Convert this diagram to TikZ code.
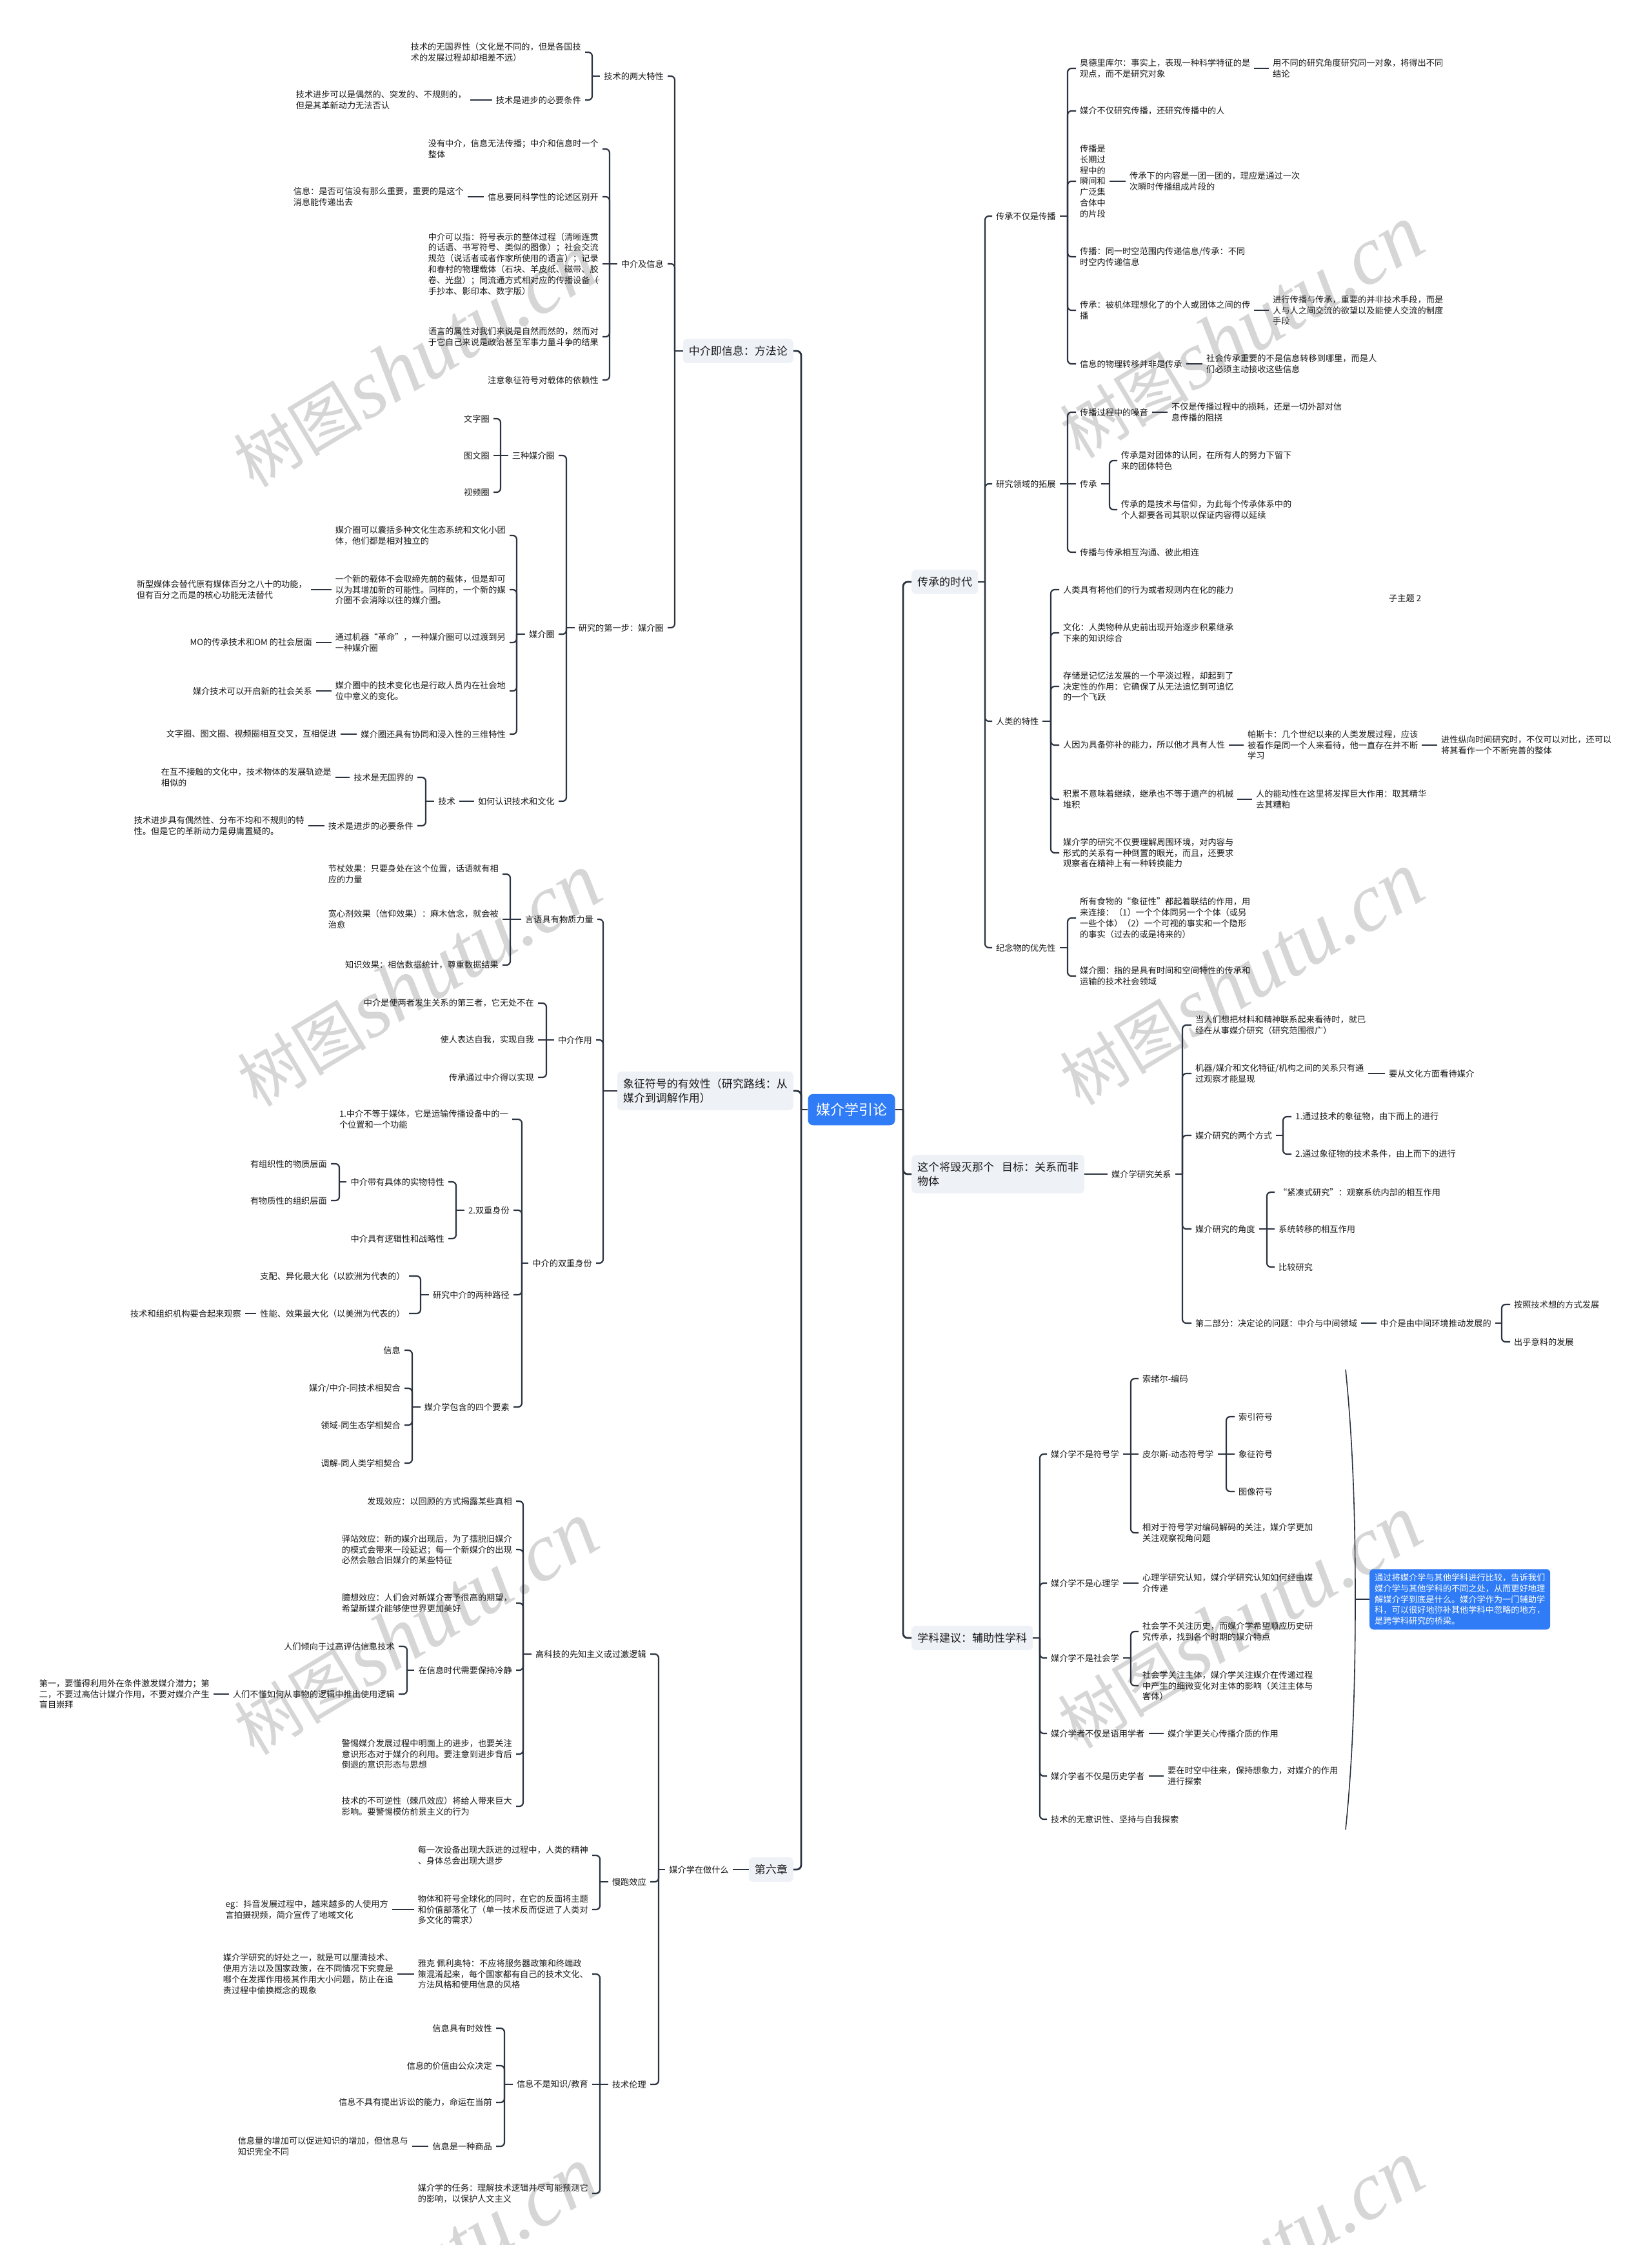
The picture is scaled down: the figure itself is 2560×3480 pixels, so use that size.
\documentclass[tikz,border=0pt]{standalone}
\usepackage{fontspec}
\setmainfont{Noto Sans CJK SC}
\newfontfamily\wmlatin{Liberation Serif}
\definecolor{lncol}{HTML}{2B3340}
\definecolor{boxfill}{HTML}{EEF1F6}
\definecolor{rootblue}{HTML}{2F7CF6}
\definecolor{wmgray}{HTML}{D6D6D6}
\newcommand\fsa{\fontsize{13.2pt}{16.8pt}\selectfont}
\newcommand\fsb{\fontsize{17pt}{22pt}\selectfont}
\newcommand\fsc{\fontsize{22pt}{26pt}\selectfont}
\tikzset{
 tx/.style={font=\fsa, align=left, inner xsep=6pt, inner ysep=2pt, text=black!90},
 nr/.style={tx, anchor=west, xshift=-6pt},
 nl/.style={tx, anchor=east, xshift=6pt},
 tbox/.style={fill=boxfill, rounded corners=7pt, font=\fsb, align=left, inner xsep=9pt, inner ysep=11pt, text=black!90},
 rootbox/.style={fill=rootblue, text=white, rounded corners=8pt, font=\fsc, inner xsep=12.5pt, inner ysep=14pt},
 nbox/.style={fill=rootblue, text=white, rounded corners=6pt, font=\fsa, align=left, inner xsep=8pt, inner ysep=7pt},
 cn/.style={draw=lncol, line width=2.2pt},
 tk/.style={draw=lncol, line width=2.8pt},
 wm/.style={text=wmgray, rotate=31, inner sep=0pt},
}
\newcommand\fanL[4]{%
  \draw[cn] (#1.west) -- (#2,#3);
  \foreach \c in {#4}{\draw[cn,rounded corners=6pt] (#2,#3) |- (\c.east);}}
\newcommand\fanR[4]{%
  \draw[cn] (#1.east) -- (#2,#3);
  \foreach \c in {#4}{\draw[cn,rounded corners=6pt] (#2,#3) |- (\c.west);}}
\newcommand\wmtext{{\fontsize{100pt}{100pt}\selectfont 树图}\hspace{0.2em}{\wmlatin\itshape\fontsize{128pt}{128pt}\selectfont shutu.cn}}
\begin{document}
\begin{tikzpicture}[x=1pt,y=-1pt]
\fill[white] (0,0) rectangle (2560,3480);
\useasboundingbox (0,0) rectangle (2560,3480);
% watermarks
\node[wm] (w1) at (644,560) {\wmtext};
\node[wm] (w2) at (1925,515) {\wmtext};
\node[wm] (w3) at (650,1520) {\wmtext};
\node[wm] (w4) at (1925,1518) {\wmtext};
\node[wm] (w5) at (645,2525) {\wmtext};
\node[wm] (w6) at (1922,2515) {\wmtext};
\node[wm] (w7) at (645,3525) {\wmtext};
\node[wm] (w8) at (1925,3515) {\wmtext};

% root
\node[rootbox] (root) at (1320,1720) {媒介学引论};
% first level
\node[tbox,anchor=east] (L1) at (1230,544) {中介即信息：方法论};
\node[tbox,anchor=east] (L2) at (1230,1691) {象征符号的有效性（研究路线：从\\媒介到调解作用）};
\node[tbox,anchor=east] (L3) at (1230,2898) {第六章};
\node[tbox,anchor=west] (R1) at (1413,902) {传承的时代};
\node[tbox,anchor=west] (R2) at (1413,1820) {这个将毁灭那个\hspace{0.7em}目标：关系而非\\物体};
\node[tbox,anchor=west] (R3) at (1413,2539) {学科建议：辅助性学科};

\draw[tk] (root.east) -- (1400,1720);
\foreach \c in {R1,R2,R3}{\draw[tk,rounded corners=7pt] (1400,1720) |- (\c.west);}
\draw[tk] (root.west) -- (1242,1720);
\foreach \c in {L1,L2,L3}{\draw[tk,rounded corners=7pt] (1242,1720) |- (\c.east);}

% ===== L1 =====
\node[nl] (a1) at (1029,118) {技术的两大特性};
\node[nl] (a1a) at (901,81) {技术的无国界性（文化是不同的，但是各国技\\术的发展过程却却相差不远）};
\node[nl] (a1b) at (901,155) {技术是进步的必要条件};
\node[nl] (a1b1) at (723,155) {技术进步可以是偶然的、突发的、不规则的，\\但是其革新动力无法否认};
\node[nl] (a2) at (1029,409) {中介及信息};
\node[nl] (a2a) at (928,231) {没有中介，信息无法传播；中介和信息时一个\\整体};
\node[nl] (a2b) at (928,305) {信息要同科学性的论述区别开};
\node[nl] (a2b1) at (719,305) {信息：是否可信没有那么重要，重要的是这个\\消息能传递出去};
\node[nl] (a2c) at (928,409) {中介可以指：符号表示的整体过程（清晰连贯\\的话语、书写符号、类似的图像）；社会交流\\规范（说话者或者作家所使用的语言）；记录\\和春村的物理载体（石块、羊皮纸、磁带、胶\\卷、光盘）；同流通方式相对应的传播设备（\\手抄本、影印本、数字版）};
\node[nl] (a2d) at (928,522) {语言的属性对我们来说是自然而然的，然而对\\于它自己来说是政治甚至军事力量斗争的结果};
\node[nl] (a2e) at (928,589) {注意象征符号对载体的依赖性};
\node[nl] (a3) at (1029,973) {研究的第一步：媒介圈};
\node[nl] (b1) at (860,706) {三种媒介圈};
\node[nl] (b1a) at (759,649) {文字圈};
\node[nl] (b1b) at (759,706) {图文圈};
\node[nl] (b1c) at (759,763) {视频圈};
\node[nl] (b2) at (860,983) {媒介圈};
\node[nl] (b2a) at (784,830) {媒介圈可以囊括多种文化生态系统和文化小团\\体，他们都是相对独立的};
\node[nl] (b2b) at (784,914) {一个新的载体不会取缔先前的载体，但是却可\\以为其增加新的可能性。同样的，一个新的媒\\介圈不会消除以往的媒介圈。};
\node[nl] (b2b1) at (476,914) {新型媒体会替代原有媒体百分之八十的功能，\\但有百分之而是的核心功能无法替代};
\node[nl] (b2c) at (784,996) {通过机器“革命”，一种媒介圈可以过渡到另\\一种媒介圈};
\node[nl] (b2c1) at (484,996) {MO的传承技术和OM 的社会层面};
\node[nl] (b2d) at (784,1071) {媒介圈中的技术变化也是行政人员内在社会地\\位中意义的变化。};
\node[nl] (b2d1) at (484,1071) {媒介技术可以开启新的社会关系};
\node[nl] (b2e) at (784,1138) {媒介圈还具有协同和浸入性的三维特性};
\node[nl] (b2e1) at (522,1138) {文字圈、图文圈、视频圈相互交叉，互相促进};
\node[nl] (b3) at (860,1242) {如何认识技术和文化};
\node[nl] (b3a) at (706,1242) {技术};
\node[nl] (b3a1) at (641,1205) {技术是无国界的};
\node[nl] (b3a1a) at (514,1205) {在互不接触的文化中，技术物体的发展轨迹是\\相似的};
\node[nl] (b3a2) at (641,1280) {技术是进步的必要条件};
\node[nl] (b3a2a) at (472,1280) {技术进步具有偶然性、分布不均和不规则的特\\性。但是它的革新动力是毋庸置疑的。};

\fanL{L1}{1046}{544}{a1,a2,a3}
\fanL{a1}{918}{118}{a1a,a1b}
\draw[cn] (a1b.west) -- (a1b1.east);
\fanL{a2}{945}{409}{a2a,a2b,a2d,a2e}
\draw[cn] (a2.west) -- (a2c.east);
\draw[cn] (a2b.west) -- (a2b1.east);
\fanL{a3}{878}{973}{b1,b2,b3}
\fanL{b1}{776}{706}{b1a,b1c}
\draw[cn] (b1.west) -- (b1b.east);
\fanL{b2}{801}{983}{b2a,b2b,b2c,b2d,b2e}
\draw[cn] (b2b.west) -- (b2b1.east);
\draw[cn] (b2c.west) -- (b2c1.east);
\draw[cn] (b2d.west) -- (b2d1.east);
\draw[cn] (b2e.west) -- (b2e1.east);
\draw[cn] (b3.west) -- (b3a.east);
\fanL{b3a}{660}{1242}{b3a1,b3a2}
\draw[cn] (b3a1.west) -- (b3a1a.east);
\draw[cn] (b3a2.west) -- (b3a2a.east);

% ===== L2 =====
\node[nl] (d1) at (920,1425) {言语具有物质力量};
\node[nl] (d1a) at (773,1355) {节杖效果：只要身处在这个位置，话语就有相\\应的力量};
\node[nl] (d1b) at (773,1425) {宽心剂效果（信仰效果）：麻木信念，就会被\\治愈};
\node[nl] (d1c) at (773,1496) {知识效果：相信数据统计，尊重数据结果};
\node[nl] (d2) at (918,1612) {中介作用};
\node[nl] (d2a) at (828,1555) {中介是使两者发生关系的第三者，它无处不在};
\node[nl] (d2b) at (828,1612) {使人表达自我，实现自我};
\node[nl] (d2c) at (828,1670) {传承通过中介得以实现};
\node[nl] (d3) at (918,1958) {中介的双重身份};
\node[nl] (e1) at (788,1735) {1.中介不等于媒体，它是运输传播设备中的一\\个位置和一个功能};
\node[nl] (e2) at (790,1876) {2.双重身份};
\node[nl] (e2a) at (689,1832) {中介带有具体的实物特性};
\node[nl] (e2a1) at (507,1804) {有组织性的物质层面};
\node[nl] (e2a2) at (507,1861) {有物质性的组织层面};
\node[nl] (e2b) at (689,1920) {中介具有逻辑性和战略性};
\node[nl] (e3) at (790,2007) {研究中介的两种路径};
\node[nl] (e3a) at (628,1978) {支配、异化最大化（以欧洲为代表的）};
\node[nl] (e3b) at (628,2036) {性能、效果最大化（以美洲为代表的）};
\node[nl] (e3b1) at (374,2036) {技术和组织机构要合起来观察};
\node[nl] (e4) at (790,2181) {媒介学包含的四个要素};
\node[nl] (e4a) at (621,2093) {信息};
\node[nl] (e4b) at (621,2152) {媒介/中介-同技术相契合};
\node[nl] (e4c) at (621,2209) {领域-同生态学相契合};
\node[nl] (e4d) at (621,2268) {调解-同人类学相契合};

\fanL{L2}{935}{1691}{d1,d2,d3}
\fanL{d1}{791}{1425}{d1a,d1c}
\draw[cn] (d1.west) -- (d1b.east);
\fanL{d2}{847}{1612}{d2a,d2c}
\draw[cn] (d2.west) -- (d2b.east);
\fanL{d3}{809}{1958}{e1,e2,e3,e4}
\fanL{e2}{707}{1876}{e2a,e2b}
\fanL{e2a}{526}{1832}{e2a1,e2a2}
\fanL{e3}{652}{2007}{e3a,e3b}
\draw[cn] (e3b.west) -- (e3b1.east);
\fanL{e4}{639}{2181}{e4a,e4b,e4c,e4d}

% ===== L3 =====
\node[nl] (f) at (1130,2898) {媒介学在做什么};
\node[nl] (g1) at (1002,2564) {高科技的先知主义或过激逻辑};
\node[nl] (g1a) at (794,2327) {发现效应：以回顾的方式揭露某些真相};
\node[nl] (g1b) at (794,2402) {驿站效应：新的媒介出现后，为了摆脱旧媒介\\的模式会带来一段延迟；每一个新媒介的出现\\必然会融合旧媒介的某些特征};
\node[nl] (g1c) at (794,2485) {臆想效应：人们会对新媒介寄予很高的期望，\\希望新媒介能够使世界更加美好};
\node[nl] (g1d) at (794,2589) {在信息时代需要保持冷静};
\node[nl] (g1d1) at (612,2552) {人们倾向于过高评估信息技术};
\node[nl] (g1d2) at (612,2626) {人们不懂如何从事物的逻辑中推出使用逻辑};
\node[nl] (g1d2a) at (325,2626) {第一，要懂得利用外在条件激发媒介潜力；第\\二，不要过高估计媒介作用，不要对媒介产生\\盲目崇拜};
\node[nl] (g1e) at (794,2719) {警惕媒介发展过程中明面上的进步，也要关注\\意识形态对于媒介的利用。要注意到进步背后\\倒退的意识形态与思想};
\node[nl] (g1f) at (794,2800) {技术的不可逆性（棘爪效应）将给人带来巨大\\影响。要警惕模仿前景主义的行为};
\node[nl] (g2) at (1002,2917) {慢跑效应};
\node[nl] (g2a) at (912,2876) {每一次设备出现大跃进的过程中，人类的精神\\、身体总会出现大退步};
\node[nl] (g2b) at (912,2960) {物体和符号全球化的同时，在它的反面将主题\\和价值部落化了（单一技术反而促进了人类对\\多文化的需求）};
\node[nl] (g2b1) at (602,2960) {eg：抖音发展过程中，越来越多的人使用方\\言拍摄视频，简介宣传了地域文化};
\node[nl] (g3) at (1002,3231) {技术伦理};
\node[nl] (g3a) at (912,3060) {雅克 佩利奥特：不应将服务器政策和终端政\\策混淆起来，每个国家都有自己的技术文化、\\方法风格和使用信息的风格};
\node[nl] (g3a1) at (610,3060) {媒介学研究的好处之一，就是可以厘清技术、\\使用方法以及国家政策，在不同情况下究竟是\\哪个在发挥作用极其作用大小问题，防止在追\\责过程中偷换概念的现象};
\node[nl] (h2) at (912,3231) {信息不是知识/教育};
\node[nl] (h2a) at (763,3144) {信息具有时效性};
\node[nl] (h2b) at (763,3202) {信息的价值由公众决定};
\node[nl] (h2c) at (763,3259) {信息不具有提出诉讼的能力，命运在当前};
\node[nl] (h2d) at (763,3327) {信息是一种商品};
\node[nl] (h2d1) at (633,3327) {信息量的增加可以促进知识的增加，但信息与\\知识完全不同};
\node[nl] (g3c) at (912,3400) {媒介学的任务：理解技术逻辑并尽可能预测它\\的影响，以保护人文主义};

\draw[cn] (L3.west) -- (f.east);
\fanL{f}{1021}{2898}{g1,g2,g3}
\fanL{g1}{811}{2564}{g1a,g1b,g1c,g1d,g1e,g1f}
\fanL{g1d}{631}{2589}{g1d1,g1d2}
\draw[cn] (g1d2.west) -- (g1d2a.east);
\fanL{g2}{930}{2917}{g2a,g2b}
\draw[cn] (g2b.west) -- (g2b1.east);
\fanL{g3}{930}{3231}{g3a,g3c}
\draw[cn] (g3.west) -- (h2.east);
\draw[cn] (g3a.west) -- (g3a1.east);
\fanL{h2}{782}{3231}{h2a,h2b,h2c,h2d}
\draw[cn] (h2d.west) -- (h2d1.east);

% ===== R1 =====
\node[nr] (p1) at (1544,335) {传承不仅是传播};
\node[nr] (p1a) at (1674,106) {奥德里库尔：事实上，表现一种科学特征的是\\观点，而不是研究对象};
\node[nr] (p1a1) at (1973,106) {用不同的研究角度研究同一对象，将得出不同\\结论};
\node[nr] (p1b) at (1674,172) {媒介不仅研究传播，还研究传播中的人};
\node[nr] (p1c) at (1674,281) {传播是\\长期过\\程中的\\瞬间和\\广泛集\\合体中\\的片段};
\node[nr] (p1c1) at (1751,281) {传承下的内容是一团一团的，理应是通过一次\\次瞬时传播组成片段的};
\node[nr] (p1d) at (1674,398) {传播：同一时空范围内传递信息/传承：不同\\时空内传递信息};
\node[nr] (p1e) at (1674,481) {传承：被机体理想化了的个人或团体之间的传\\播};
\node[nr] (p1e1) at (1973,481) {进行传播与传承，重要的并非技术手段，而是\\人与人之间交流的欲望以及能使人交流的制度\\手段};
\node[nr] (p1f) at (1674,564) {信息的物理转移并非是传承};
\node[nr] (p1f1) at (1870,564) {社会传承重要的不是信息转移到哪里，而是人\\们必须主动接收这些信息};
\node[nr] (p2) at (1544,750) {研究领域的拓展};
\node[nr] (p2a) at (1674,639) {传播过程中的噪音};
\node[nr] (p2a1) at (1816,639) {不仅是传播过程中的损耗，还是一切外部对信\\息传播的阻挠};
\node[nr] (p2b) at (1674,750) {传承};
\node[nr] (p2b1) at (1738,714) {传承是对团体的认同，在所有人的努力下留下\\来的团体特色};
\node[nr] (p2b2) at (1738,790) {传承的是技术与信仰，为此每个传承体系中的\\个人都要各司其职以保证内容得以延续};
\node[nr] (p2c) at (1674,856) {传播与传承相互沟通、彼此相连};
\node[nr] (p3) at (1544,1118) {人类的特性};
\node[nr] (p3a) at (1648,914) {人类具有将他们的行为或者规则内在化的能力};
\node[nr] (p3b) at (1648,981) {文化：人类物种从史前出现开始逐步积累继承\\下来的知识综合};
\node[nr] (p3c) at (1648,1064) {存储是记忆法发展的一个平淡过程，却起到了\\决定性的作用：它确保了从无法追忆到可追忆\\的一个飞跃};
\node[nr] (p3d) at (1648,1155) {人因为具备弥补的能力，所以他才具有人性};
\node[nr] (p3d1) at (1934,1155) {帕斯卡：几个世纪以来的人类发展过程，应该\\被看作是同一个人来看待，他一直存在并不断\\学习};
\node[nr] (p3d2) at (2234,1155) {进性纵向时间研究时，不仅可以对比，还可以\\将其看作一个不断完善的整体};
\node[nr] (p3e) at (1648,1239) {积累不意味着继续，继承也不等于遗产的机械\\堆积};
\node[nr] (p3e1) at (1947,1239) {人的能动性在这里将发挥巨大作用：取其精华\\去其糟粕};
\node[nr] (p3f) at (1648,1322) {媒介学的研究不仅要理解周围环境，对内容与\\形式的关系有一种倒置的眼光，而且，还要求\\观察者在精神上有一种转换能力};
\node[nr] (p4) at (1544,1469) {纪念物的优先性};
\node[nr] (p4a) at (1674,1423) {所有食物的“象征性”都起着联结的作用，用\\来连接：（1）一个个体同另一个个体（或另\\一些个体）（2）一个可视的事实和一个隐形\\的事实（过去的或是将来的）};
\node[nr] (p4b) at (1674,1513) {媒介圈：指的是具有时间和空间特性的传承和\\运输的技术社会领域};
\node[nr] (zt) at (2153,927) {子主题 2};

\fanR{R1}{1527}{902}{p1,p2,p3,p4}
\fanR{p1}{1655}{335}{p1a,p1b,p1c,p1d,p1e,p1f}
\draw[cn] (p1a.east) -- (p1a1.west);
\draw[cn] (p1c.east) -- (p1c1.west);
\draw[cn] (p1e.east) -- (p1e1.west);
\draw[cn] (p1f.east) -- (p1f1.west);
\fanR{p2}{1655}{750}{p2a,p2c}
\draw[cn] (p2.east) -- (p2b.west);
\draw[cn] (p2a.east) -- (p2a1.west);
\fanR{p2b}{1720}{750}{p2b1,p2b2}
\fanR{p3}{1629}{1118}{p3a,p3b,p3c,p3d,p3e,p3f}
\draw[cn] (p3d.east) -- (p3d1.west);
\draw[cn] (p3d1.east) -- (p3d2.west);
\draw[cn] (p3e.east) -- (p3e1.west);
\fanR{p4}{1655}{1469}{p4a,p4b}

% ===== R2 =====
\node[nr] (k) at (1723,1820) {媒介学研究关系};
\node[nr] (k1) at (1853,1589) {当人们想把材料和精神联系起来看待时，就已\\经在从事媒介研究（研究范围很广）};
\node[nr] (k2) at (1853,1664) {机器/媒介和文化特征/机构之间的关系只有通\\过观察才能显现};
\node[nr] (k2a) at (2153,1664) {要从文化方面看待媒介};
\node[nr] (k3) at (1853,1760) {媒介研究的两个方式};
\node[nr] (k3a) at (2008,1731) {1.通过技术的象征物，由下而上的进行};
\node[nr] (k3b) at (2008,1789) {2.通过象征物的技术条件，由上而下的进行};
\node[nr] (k4) at (1853,1905) {媒介研究的角度};
\node[nr] (k4a) at (1982,1848) {“紧凑式研究”：观察系统内部的相互作用};
\node[nr] (k4b) at (1982,1905) {系统转移的相互作用};
\node[nr] (k4c) at (1982,1964) {比较研究};
\node[nr] (k5) at (1853,2051) {第二部分：决定论的问题：中介与中间领域};
\node[nr] (k5a) at (2140,2051) {中介是由中间环境推动发展的};
\node[nr] (k5a1) at (2347,2022) {按照技术想的方式发展};
\node[nr] (k5a2) at (2347,2080) {出乎意料的发展};

\draw[cn] (R2.east) -- (k.west);
\fanR{k}{1833}{1820}{k1,k2,k3,k4,k5}
\draw[cn] (k2.east) -- (k2a.west);
\fanR{k3}{1989}{1760}{k3a,k3b}
\fanR{k4}{1964}{1905}{k4a,k4c}
\draw[cn] (k4.east) -- (k4b.west);
\draw[cn] (k5.east) -- (k5a.west);
\fanR{k5a}{2328}{2051}{k5a1,k5a2}

% ===== R3 =====
\node[nr] (m1) at (1629,2254) {媒介学不是符号学};
\node[nr] (m1a) at (1771,2137) {索绪尔-编码};
\node[nr] (m1b) at (1771,2254) {皮尔斯-动态符号学};
\node[nr] (m1b1) at (1920,2196) {索引符号};
\node[nr] (m1b2) at (1920,2254) {象征符号};
\node[nr] (m1b3) at (1920,2312) {图像符号};
\node[nr] (m1c) at (1771,2376) {相对于符号学对编码解码的关注，媒介学更加\\关注观察视角问题};
\node[nr] (m2) at (1629,2454) {媒介学不是心理学};
\node[nr] (m2a) at (1771,2454) {心理学研究认知，媒介学研究认知如何经由媒\\介传递};
\node[nr] (m3) at (1629,2570) {媒介学不是社会学};
\node[nr] (m3a) at (1771,2529) {社会学不关注历史，而媒介学希望顺应历史研\\究传承，找到各个时期的媒介特点};
\node[nr] (m3b) at (1771,2613) {社会学关注主体，媒介学关注媒介在传递过程\\中产生的细微变化对主体的影响（关注主体与\\客体）};
\node[nr] (m4) at (1629,2687) {媒介学者不仅是语用学者};
\node[nr] (m4a) at (1810,2687) {媒介学更关心传播介质的作用};
\node[nr] (m5) at (1629,2753) {媒介学者不仅是历史学者};
\node[nr] (m5a) at (1810,2753) {要在时空中往来，保持想象力，对媒介的作用\\进行探索};
\node[nr] (m6) at (1629,2820) {技术的无意识性、坚持与自我探索};

\fanR{R3}{1612}{2539}{m1,m2,m3,m4,m5,m6}
\fanR{m1}{1753}{2254}{m1a,m1c}
\draw[cn] (m1.east) -- (m1b.west);
\fanR{m1b}{1901}{2254}{m1b1,m1b3}
\draw[cn] (m1b.east) -- (m1b2.west);
\draw[cn] (m2.east) -- (m2a.west);
\fanR{m3}{1753}{2570}{m3a,m3b}
\draw[cn] (m4.east) -- (m4a.west);
\draw[cn] (m5.east) -- (m5a.west);

% summary bracket and note
\node[nbox,anchor=west] (note) at (2123,2479) {通过将媒介学与其他学科进行比较，告诉我们\\媒介学与其他学科的不同之处，从而更好地理\\解媒介学到底是什么。媒介学作为一门辅助学\\科，可以很好地弥补其他学科中忽略的地方，\\是跨学科研究的桥梁。};
\coordinate (bt) at (2086,2123);
\coordinate (bm) at (2101,2479);
\coordinate (bb) at (2086,2836);
\draw[draw=lncol,line width=1.6pt] (bt) .. controls (2099,2250) and (2101,2380) .. (bm) .. controls (2101,2580) and (2099,2710) .. (bb);
\draw[draw=lncol,line width=1.6pt] (bm) -- (note.west);
\end{tikzpicture}
\end{document}
